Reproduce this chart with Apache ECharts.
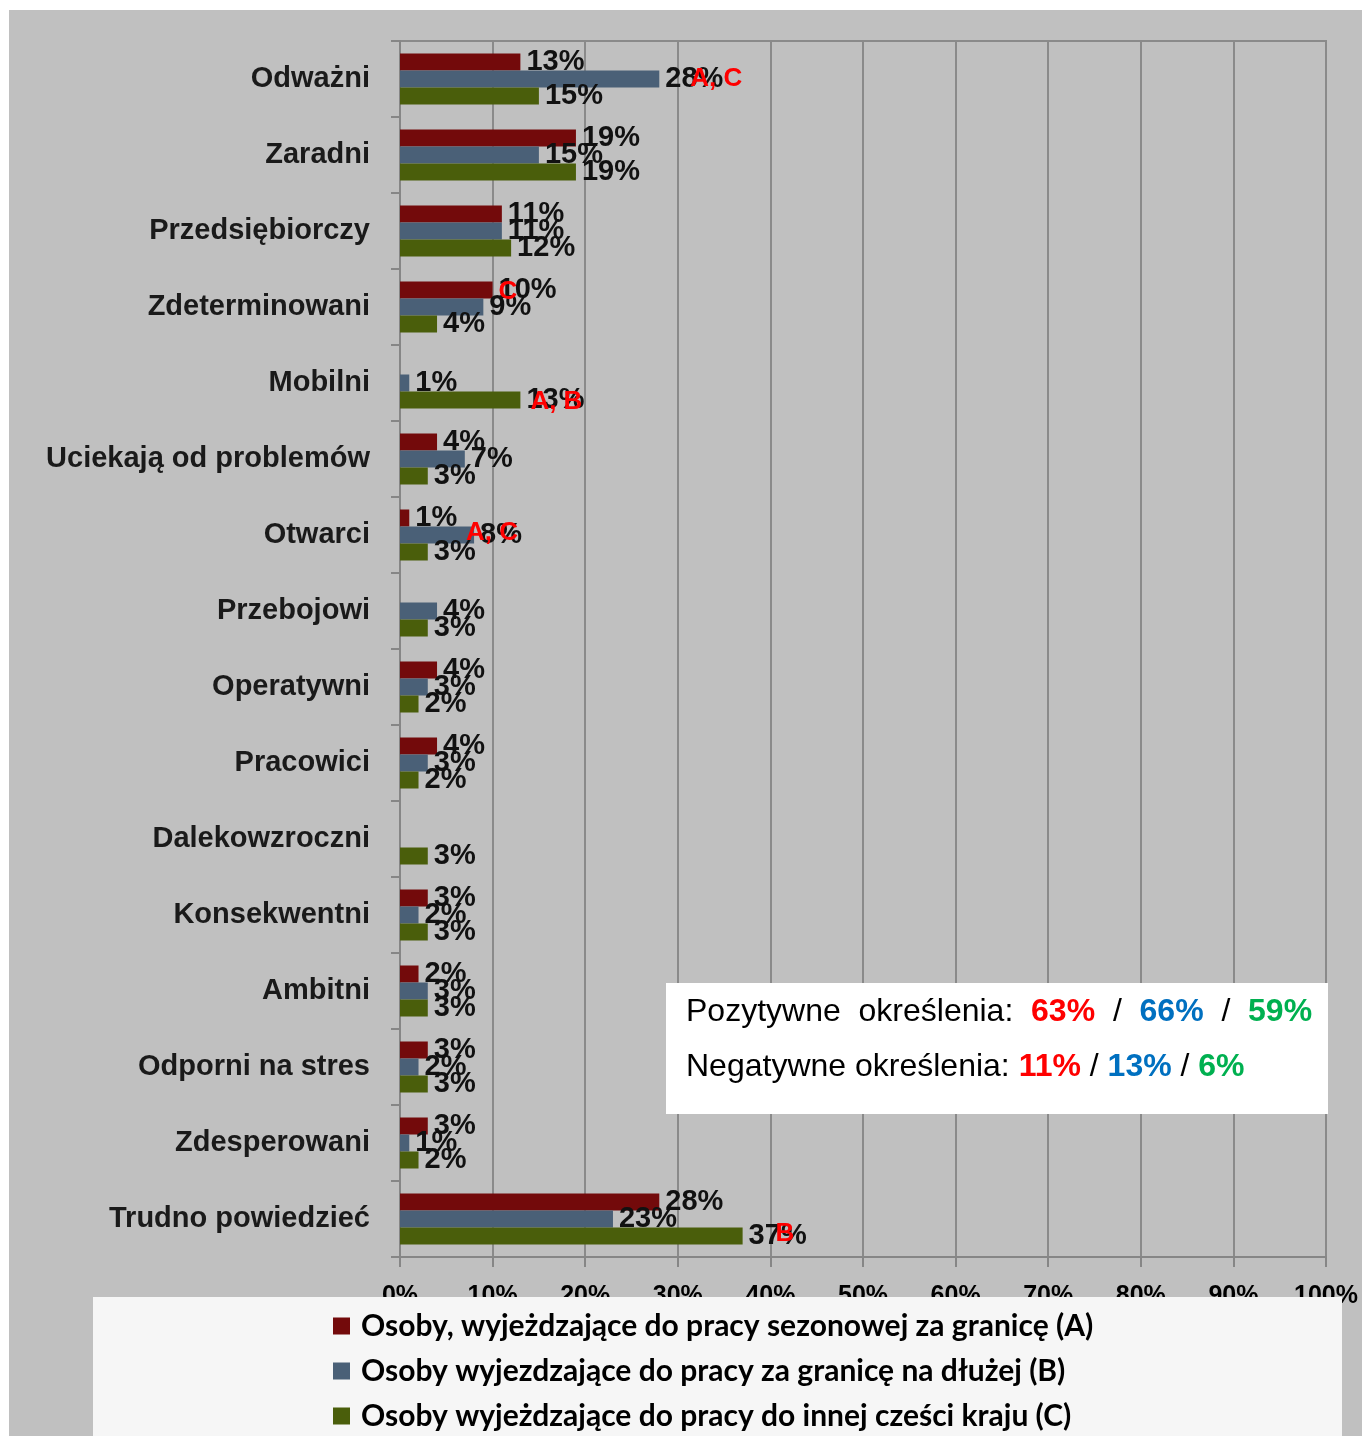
<!DOCTYPE html>
<html>
<head>
<meta charset="utf-8">
<script src="https://cdn.jsdelivr.net/npm/echarts@6/dist/echarts.min.js"></script>
<style>
  html, body { margin: 0; padding: 0; background: #ffffff; }
  #chart { width: 1362px; height: 1436px; }
</style>
</head>
<body>
<div id="chart"></div>
<script>
// Cechy przypisywane osobom wyjeżdżającym do pracy (% wskazań)
const categories = [
  'Odważni', 'Zaradni', 'Przedsiębiorczy', 'Zdeterminowani', 'Mobilni',
  'Uciekają od problemów', 'Otwarci', 'Przebojowi', 'Operatywni', 'Pracowici',
  'Dalekowzroczni', 'Konsekwentni', 'Ambitni', 'Odporni na stres', 'Zdesperowani',
  'Trudno powiedzieć'
];
const seriesNames = [
  'Osoby, wyjeżdzające do pracy sezonowej za granicę (A)',
  'Osoby wyjezdzające do pracy za granicę na dłużej (B)',
  'Osoby wyjeżdzające do pracy do innej cześci kraju (C)'
];
const valuesA = [13, 19, 11, 10, null, 4, 1, null, 4, 4, null, 3, 2, 3, 3, 28];
const valuesB = [28, 15, 11, 9, 1, 7, 8, 4, 3, 3, null, 2, 3, 2, 1, 23];
const valuesC = [15, 19, 12, 4, 13, 3, 3, 3, 2, 2, 3, 3, 3, 3, 2, 37];
const xTicks = [0, 10, 20, 30, 40, 50, 60, 70, 80, 90, 100];

// Istotne różnice między grupami: kategoria, seria, oznaczenie
const significance = [
  { category: 'Odważni', series: 1, text: 'A, C' },
  { category: 'Zdeterminowani', series: 0, text: 'C' },
  { category: 'Mobilni', series: 2, text: 'A, B' },
  { category: 'Otwarci', series: 1, text: 'A, C' },
  { category: 'Trudno powiedzieć', series: 2, text: 'B' }
];
// przesunięcie oznaczeń względem końca słupka [dx, dy]
const significanceOffset = [[31, 0], [6, 2], [10, 2], [-8, -2], [33, -2]];

const summaryPositive = ['63%', '66%', '59%'];
const summaryNegative = ['11%', '13%', '6%'];

const colors = ['#730A0B', '#4A6077', '#4A5E0B'];
const BAR = 17;
const ARIAL = '"Liberation Sans", Arial, sans-serif';

const chart = echarts.init(document.getElementById('chart'), null, { renderer: 'canvas' });

const valueLabel = {
  show: true,
  position: 'right',
  distance: 6,
  formatter: p => p.value == null ? '' : p.value + '%',
  fontFamily: ARIAL,
  fontWeight: 'bold',
  fontSize: 29,
  color: '#111111'
};

const seriesData = [valuesA, valuesB, valuesC];

const option = {
  backgroundColor: '#ffffff',
  animation: false,
  color: colors,
  grid: {
    left: 400, right: 36, top: 41, bottom: 179,
    show: true, borderColor: '#8A8A8A', borderWidth: 2,
    backgroundColor: 'transparent'
  },
  xAxis: {
    type: 'value',
    min: 0, max: 100, interval: 10,
    axisLine: { show: true, lineStyle: { color: '#868686', width: 2 } },
    axisTick: { show: true, length: 10, lineStyle: { color: '#868686', width: 2 } },
    splitLine: { show: true, lineStyle: { color: '#8A8A8A', width: 2 } },
    axisLabel: {
      margin: 27,
      formatter: v => xTicks.indexOf(v) >= 0 ? v + '%' : '',
      fontFamily: ARIAL,
      fontWeight: 'bold',
      fontSize: 25,
      color: '#000000'
    }
  },
  yAxis: {
    type: 'category',
    inverse: true,
    data: categories,
    axisLine: { show: true, lineStyle: { color: '#868686', width: 2 } },
    axisTick: { show: true, length: 9, lineStyle: { color: '#868686', width: 2 } },
    axisLabel: {
      margin: 30,
      fontFamily: ARIAL,
      fontWeight: 'bold',
      fontSize: 29,
      color: '#1A1A1A'
    }
  },
  legend: {
    orient: 'vertical',
    left: 328, top: 1306,
    height: 300,
    padding: 5,
    z: 30,
    icon: 'rect',
    itemWidth: 17, itemHeight: 17,
    itemGap: 15,
    selectedMode: false,
    data: seriesNames,
    textStyle: {
      fontFamily: 'Lato, sans-serif',
      fontWeight: 'bold',
      fontSize: 30,
      lineHeight: 30,
      color: '#000000',
      padding: [0, 0, 0, 6]
    }
  },
  series: seriesData.map((vals, i) => ({
    name: seriesNames[i],
    type: 'bar',
    data: vals,
    barWidth: BAR,
    barGap: '0%',
    itemStyle: { color: colors[i] },
    label: valueLabel,
    z: 2
  }))
};

chart.setOption(option);

// Oznaczenia istotności, pozycja liczona ze skal wykresu
const notes = significance.map((s, i) => {
  const ci = categories.indexOf(s.category);
  const val = seriesData[s.series][ci] || 0;
  const end = chart.convertToPixel({ gridIndex: 0 }, [val, ci]);
  const barCenterY = end[1] + (s.series - 1) * BAR;
  const off = significanceOffset[i];
  return {
    type: 'text',
    z: 40,
    x: end[0] + off[0],
    y: barCenterY + off[1],
    style: {
      text: s.text,
      fill: '#FF0000',
      font: 'bold 26px ' + ARIAL,
      verticalAlign: 'middle',
      align: 'left'
    }
  };
});

const summaryRich = {
  n: { fontFamily: ARIAL, fontSize: 32, fill: '#000000' },
  r: { fontFamily: ARIAL, fontSize: 32, fontWeight: 'bold', fill: '#FF0000' },
  b: { fontFamily: ARIAL, fontSize: 32, fontWeight: 'bold', fill: '#0070C0' },
  g: { fontFamily: ARIAL, fontSize: 32, fontWeight: 'bold', fill: '#00B050' }
};

chart.setOption({
  graphic: [
    {
      type: 'rect', z: -100, silent: true,
      shape: { x: 9, y: 10, width: 1353, height: 1426 },
      style: { fill: '#C0C0C0' }
    },
    {
      type: 'rect', z: 20, silent: true,
      shape: { x: 93, y: 1297, width: 1249, height: 139 },
      style: { fill: '#F6F6F6' }
    },
    {
      type: 'rect', z: 25, silent: true,
      shape: { x: 666, y: 983, width: 662, height: 131 },
      style: { fill: '#FFFFFF' }
    },
    {
      type: 'text', z: 26, x: 686, y: 1012,
      style: {
        text: '{n|Pozytywne  określenia:}  {r|' + summaryPositive[0] + '}  {n|/}  {b|' +
          summaryPositive[1] + '}  {n|/}  {g|' + summaryPositive[2] + '}',
        rich: summaryRich,
        font: '32px ' + ARIAL,
        verticalAlign: 'middle'
      }
    },
    {
      type: 'text', z: 26, x: 686, y: 1067,
      style: {
        text: '{n|Negatywne określenia:} {r|' + summaryNegative[0] + '} {n|/} {b|' +
          summaryNegative[1] + '} {n|/} {g|' + summaryNegative[2] + '}',
        rich: summaryRich,
        font: '32px ' + ARIAL,
        verticalAlign: 'middle'
      }
    }
  ].concat(notes)
});
</script>
</body>
</html>
